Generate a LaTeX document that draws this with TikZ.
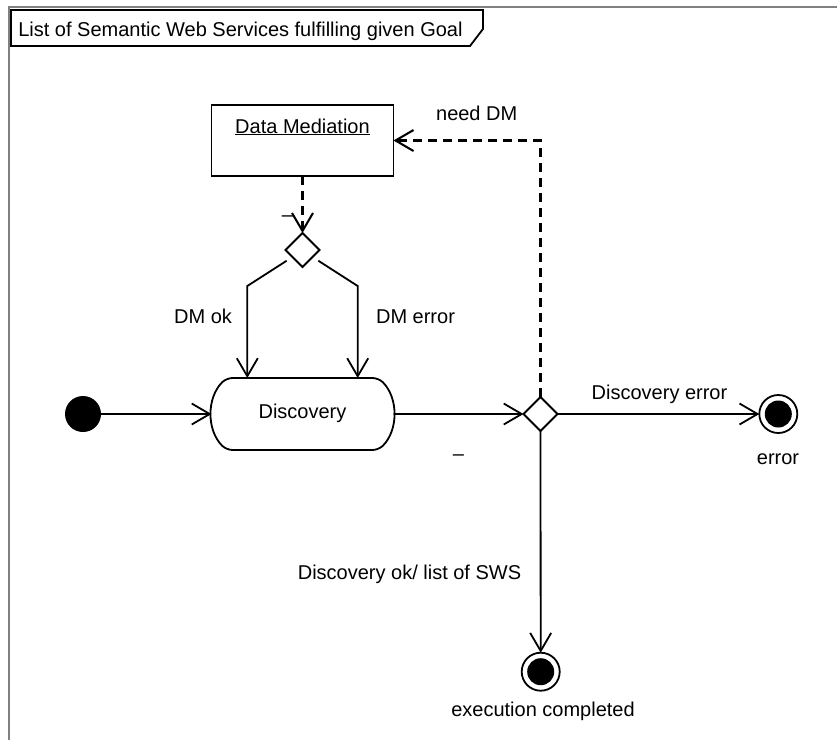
\documentclass[tikz,border=0pt]{standalone}
\usepackage{fontspec}
\setmainfont{Liberation Sans}
\usetikzlibrary{arrows.meta,shapes.geometric,shapes.misc}
\begin{document}
\begin{tikzpicture}[x=1pt,y=-1pt,
  every node/.style={font=\fontsize{20}{24}\selectfont, inner sep=0pt, outer sep=0pt},
  ln/.style={line width=1.8pt},
  arr/.style={ln, -{Straight Barb[length=18pt,width=21pt]}},
  dsh/.style={line width=2.05pt, dash pattern=on 9pt off 6pt},
  decision/.style={diamond, draw, ln, minimum width=34pt, minimum height=34pt, inner sep=0pt},
  actbox/.style={rectangle, draw, ln, minimum width=182pt, minimum height=71pt},
  action/.style={rounded rectangle, rounded rectangle arc length=90, rounded corners=6pt, draw, ln, minimum width=182pt, minimum height=72pt},
  initial/.style={circle, fill=black, minimum size=36pt},
  final/.style={circle, draw, ln, minimum size=38pt, path picture={\fill[black] (path picture bounding box.center) circle[radius=13.5pt];}},
  lbl/.style={anchor=base},
]
\useasboundingbox (0,0) rectangle (837,740);
% frame
\draw[gray, line width=2pt] (9,740) -- (9,7) -- (837,7);
\draw[ln] (11,10) -- (483,10) -- (483,29) -- (470,46) -- (11,46) -- cycle;
\node[lbl, anchor=base west] (title) at (18.3,36) {List of Semantic Web Services fulfilling given Goal};

% nodes
\node[actbox] (dm) at (302.5,140.5) {};
\node[lbl] (dmtext) at (302.5,133) {\underline{Data Mediation}};
\node[decision] (d1) at (302.5,250) {};
\node[action] (disc) at (302.5,414) {};
\node[lbl] (disctext) at (302.5,418) {Discovery};
\node[initial] (init) at (83,414) {};
\node[decision] (d2) at (540.5,414) {};
\node[final] (errend) at (778.3,414) {};
\node[final] (okend) at (540.7,671.7) {};

% helper coordinates
\coordinate (l1) at (286.7,260.7);
\coordinate (l2) at (247.3,286);
\coordinate (r1) at (318.3,260.7);
\coordinate (r2) at (357.7,286);
\coordinate (nd) at (540.5,140.5);

% connectors
\draw[arr] (init) -- (disc);
\draw[arr] (disc) -- (d2);
\draw[arr] (d2) -- (errend);
\draw[arr] (d2) -- (okend);
\draw[arr, dsh] (d2.north) -- (nd) -- (dm.east);
\draw[arr, dsh] (dm.south) -- (d1.north);
\draw[arr] (l1) -- (l2) -- (l2 |- disc.north);
\draw[arr] (r1) -- (r2) -- (r2 |- disc.north);

% labels
\node[lbl] (lneed) at (476.7,120) {need DM};
\node[lbl] (ldmok) at (203,323) {DM ok};
\node[lbl] (ldmerr) at (415.5,323) {DM error};
\node[lbl] (lderr) at (659.5,399.3) {Discovery error};
\node[lbl] (lerr) at (778,464) {error};
\node[lbl] (lok) at (409.5,579.3) {Discovery ok/ list of SWS};
\node[lbl] (lexec) at (543,716) {execution completed};
\node[lbl] (g1) at (287.4,221.2) {–};
\node[lbl] (g2) at (458.4,460) {–};
\end{tikzpicture}
\end{document}
